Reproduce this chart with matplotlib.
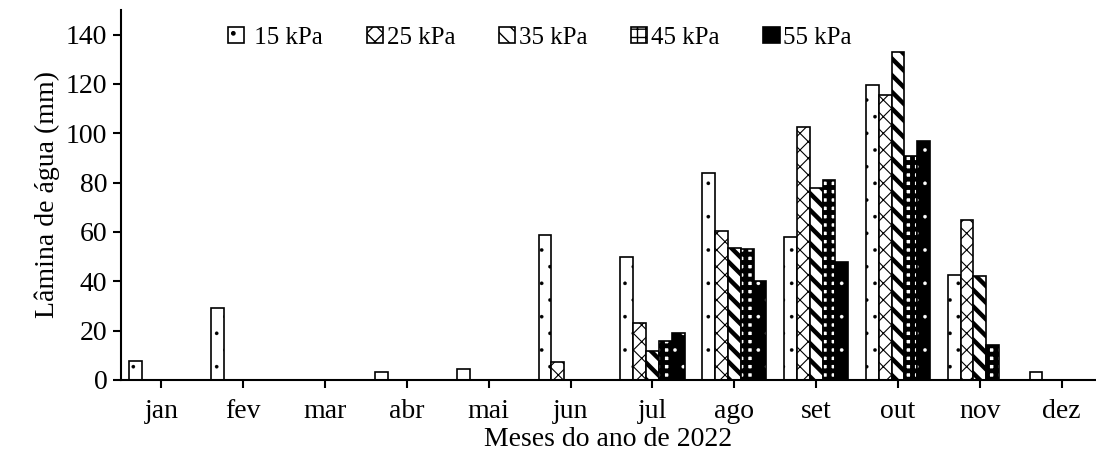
import numpy as np
import matplotlib
matplotlib.use('Agg')
import matplotlib.pyplot as plt
from matplotlib.patches import Patch

plt.rcParams.update({
    'font.family': 'serif',
    'font.serif': ['Liberation Serif', 'DejaVu Serif'],
    'font.size': 20,
})

# ---- Data ----
months = ['jan', 'fev', 'mar', 'abr', 'mai', 'jun', 'jul', 'ago', 'set', 'out', 'nov', 'dez']
series_labels = [' 15 kPa', '25 kPa', '35 kPa', '45 kPa', '55 kPa']
kpa15 = [7.5, 29.0, 0, 3.0, 4.6, 58.6, 49.8, 83.8, 57.9, 119.7, 42.6, 3.1]
kpa25 = [0, 0, 0, 0, 0, 7.3, 23.2, 60.5, 102.6, 115.6, 64.8, 0]
kpa35 = [0, 0, 0, 0, 0, 0, 11.8, 53.4, 77.8, 133.0, 42.2, 0]
kpa45 = [0, 0, 0, 0, 0, 0, 15.6, 53.0, 81.1, 90.6, 14.2, 0]
kpa55 = [0, 0, 0, 0, 0, 0, 19.0, 40.2, 47.6, 97.0, 0, 0]

series = [kpa15, kpa25, kpa35, kpa45, kpa55]
# (facecolor, hatch, hatch linewidth)
styles = [
    ('white', '.', 0.2),
    ('white', 'xx', 0.8),
    ('white', '\\\\', 3.2),
    ('white', '++', 3.5),
    ('black', '.', 0.2),
]

fig = plt.figure(figsize=(10.96, 4.69), dpi=100)
ax = fig.add_axes([0.110, 0.190, 0.890, 0.789])

x = np.arange(len(months))
width = 0.157
EDGE_LW = 1.2

for i, (vals, (fc, hatch, hlw)) in enumerate(zip(series, styles)):
    pos = x + (i - 2) * width
    vals = np.array(vals)
    mask = vals > 0
    with plt.rc_context({'hatch.linewidth': hlw}):
        if fc == 'black':
            # black bar with white dots: white hatch layer, then black outline
            bars = ax.bar(pos[mask], vals[mask], width, facecolor='black',
                          edgecolor='white', hatch=hatch, linewidth=0, zorder=2)
            ax.bar(pos[mask], vals[mask], width, fill=False,
                   edgecolor='black', linewidth=EDGE_LW, zorder=3)
        else:
            bars = ax.bar(pos[mask], vals[mask], width, facecolor=fc,
                          edgecolor='black', hatch=hatch, linewidth=EDGE_LW, zorder=2)
    for b in bars:
        if hasattr(b, 'set_hatch_linewidth'):
            b.set_hatch_linewidth(hlw)

# ---- Axes ----
ax.set_xlim(-0.5, 11.42)
ax.set_ylim(0, 150)
ax.set_xticks(x)
ax.set_xticklabels(months)
ax.set_yticks(np.arange(0, 141, 20))
ax.tick_params(axis='both', direction='out', length=6, width=1.5, labelsize=20)
ax.tick_params(axis='x', pad=8)
for s in ['top', 'right']:
    ax.spines[s].set_visible(False)
for s in ['left', 'bottom']:
    ax.spines[s].set_linewidth(1.5)

ax.set_xlabel('Meses do ano de 2022', fontsize=20, labelpad=2)
ax.set_ylabel('Lâmina de água (mm)', fontsize=20, labelpad=4)

# ---- Legend ----
handles = []
for fc, hatch, hlw in styles:
    if fc == 'black':
        handles.append(Patch(facecolor='black', edgecolor='black', linewidth=EDGE_LW))
    else:
        handles.append(Patch(facecolor=fc, edgecolor='black', hatch=hatch, linewidth=EDGE_LW))
ax.legend(handles, series_labels, loc='center left', bbox_to_anchor=(0.1, 0.925),
          ncol=5, frameon=False, fontsize=18, handlelength=0.65, handleheight=0.65,
          handletextpad=0.15, columnspacing=1.75, borderaxespad=0)

fig.savefig('out.png', dpi=100, facecolor='white')
